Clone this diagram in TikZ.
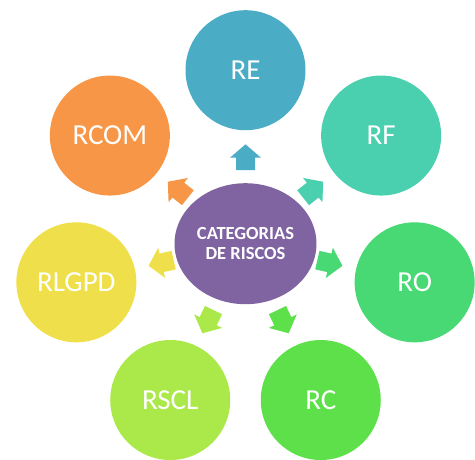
\documentclass[tikz,border=0pt]{standalone}
\usepackage{fontspec}
\setmainfont{Carlito}
\usetikzlibrary{shapes.geometric,calc}
\definecolor{cRE}{HTML}{4BACC6}
\definecolor{cRF}{HTML}{4ACFAF}
\definecolor{cRO}{HTML}{48D874}
\definecolor{cRC}{HTML}{5EE04A}
\definecolor{cRSCL}{HTML}{ABE84A}
\definecolor{cRLGPD}{HTML}{EFE04B}
\definecolor{cRCOM}{HTML}{F79646}
\definecolor{cCenter}{HTML}{8064A2}
\tikzset{
  outer/.style={circle, minimum size=120pt, inner sep=0pt, text=white,
    font=\fontsize{29}{31}\selectfont},
  centre/.style={ellipse, minimum width=142pt, minimum height=121pt, inner sep=0pt,
    fill=cCenter, text=white, align=center,
    font=\fontsize{18.5}{20.5}\selectfont\bfseries},
}
\newcommand{\blockarrow}[2]{%
  \begin{scope}[shift={(c)}, rotate=#1]
    \fill[#2] (73.7pt,-9.5pt) -- (86pt,-9.5pt) -- (86pt,-15.5pt) -- (99.4pt,0pt)
      -- (86pt,15.5pt) -- (86pt,9.5pt) -- (73.7pt,9.5pt) -- cycle;
  \end{scope}}
\begin{document}
\begin{tikzpicture}[x=1pt,y=1pt]
\useasboundingbox (0,-459) rectangle (475,0);
\coordinate (c) at (245.5,-243.7);
\node[centre] (cat) at (c) {CATEGORIAS\\DE RISCOS};
\node[outer, fill=cRE]    (re)    at ($(c)+(90:173.5)$) {RE};
\node[outer, fill=cRF]    (rf)    at ($(c)+(38.57:173.5)$) {RF};
\node[outer, fill=cRO]    (ro)    at ($(c)+(-12.86:173.5)$) {RO};
\node[outer, fill=cRC]    (rc)    at ($(c)+(-64.29:173.5)$) {RC};
\node[outer, fill=cRSCL]  (rscl)  at ($(c)+(-115.71:173.5)$) {RSCL};
\node[outer, fill=cRLGPD] (rlgpd) at ($(c)+(-167.14:173.5)$) {RLGPD};
\node[outer, fill=cRCOM]  (rcom)  at ($(c)+(141.43:173.5)$) {RCOM};
\blockarrow{90}{cRE}
\blockarrow{38.57}{cRF}
\blockarrow{-12.86}{cRO}
\blockarrow{-64.29}{cRC}
\blockarrow{-115.71}{cRSCL}
\blockarrow{-167.14}{cRLGPD}
\blockarrow{141.43}{cRCOM}
\end{tikzpicture}
\end{document}
